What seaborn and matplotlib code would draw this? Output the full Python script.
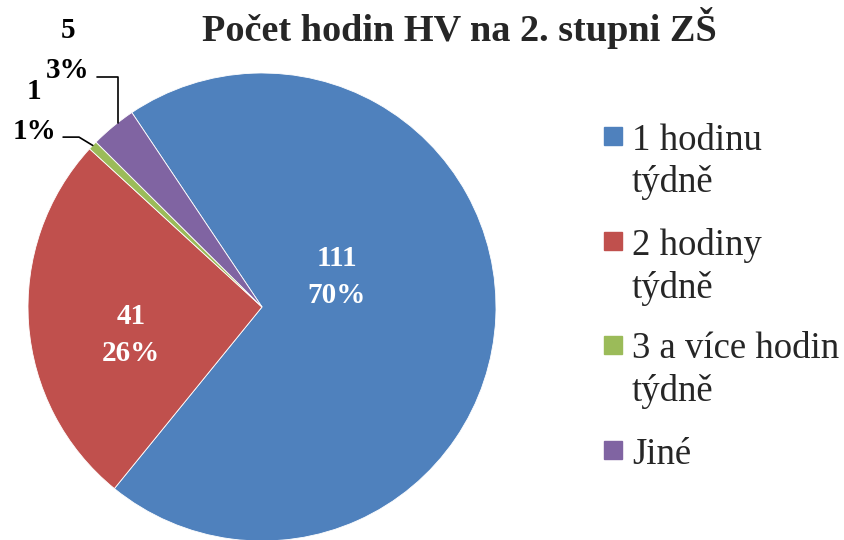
import numpy as np
import matplotlib
matplotlib.use('Agg')
import matplotlib.pyplot as plt
import seaborn as sns
from matplotlib.patches import Rectangle

sns.set_style('white')
plt.rcParams['font.family'] = ['Liberation Serif', 'DejaVu Serif']

# data
categories = ['1 hodinu\ntýdně', '2 hodiny\ntýdně', '3 a více hodin\ntýdně', 'Jiné']
counts = [111, 41, 1, 5]
colors = ['#4F81BD', '#C0504D', '#9BBB59', '#8064A2']
title = 'Počet hodin HV na 2. stupni ZŠ'

total = sum(counts)
labels = [f'{v}\n{v / total * 100:.0f}%' for v in counts]

fig = plt.figure(figsize=(8.44, 5.4), dpi=100)
W, H = 844, 540
cx, cy, r = 262, 307, 234
ax = fig.add_axes([(cx - r) / W, (H - cy - r) / H, 2 * r / W, 2 * r / H])

wedges, _ = ax.pie(counts, colors=colors, startangle=123.8, counterclock=False,
                   radius=1, wedgeprops=dict(edgecolor='white', linewidth=0.6))
ax.set_xlim(-1, 1)
ax.set_ylim(-1, 1)
ax.axis('off')

# inside labels
inside = {0: (0.32, 0.128), 1: (-0.56, -0.12)}
for i, (x, y) in inside.items():
    ax.text(x, y, labels[i], ha='center', va='center', color='white',
            fontsize=21, fontweight='bold', linespacing=1.45)

# outside labels with leader lines
outside = {3: (-0.83, 1.095), 2: (-0.974, 0.835)}
for i, (x, y) in outside.items():
    ax.text(x, y, labels[i], ha='center', va='center', color='black',
            fontsize=21, fontweight='bold', linespacing=1.6, clip_on=False)

w = wedges[3]
a = np.deg2rad((w.theta1 + w.theta2) / 2 - 1.5)
ex, ey = np.cos(a), np.sin(a)
ax.plot([ex, ex, -0.705], [ey, 0.983, 0.983], color='black', lw=1.2, clip_on=False)

w = wedges[2]
a = np.deg2rad((w.theta1 + w.theta2) / 2)
ex, ey = np.cos(a), np.sin(a)
ax.plot([ex, -0.782, -0.850], [ey, 0.726, 0.726], color='black', lw=1.2, clip_on=False)

# title
fig.text(459 / W, 1 - 28 / H, title, ha='center', va='center',
         fontsize=27.5, fontweight='bold')

# legend
sq_top = [127, 232, 336, 441]
for lab, col, t in zip(categories, colors, sq_top):
    fig.patches.append(Rectangle((604 / W, 1 - (t + 18) / H), 18 / W, 18 / H,
                                 transform=fig.transFigure, color=col))
    fig.text(632 / W, 1 - (t - 4) / H, lab, ha='left', va='top',
             fontsize=26.5, linespacing=1.28)

fig.savefig('out.png', dpi=100)
